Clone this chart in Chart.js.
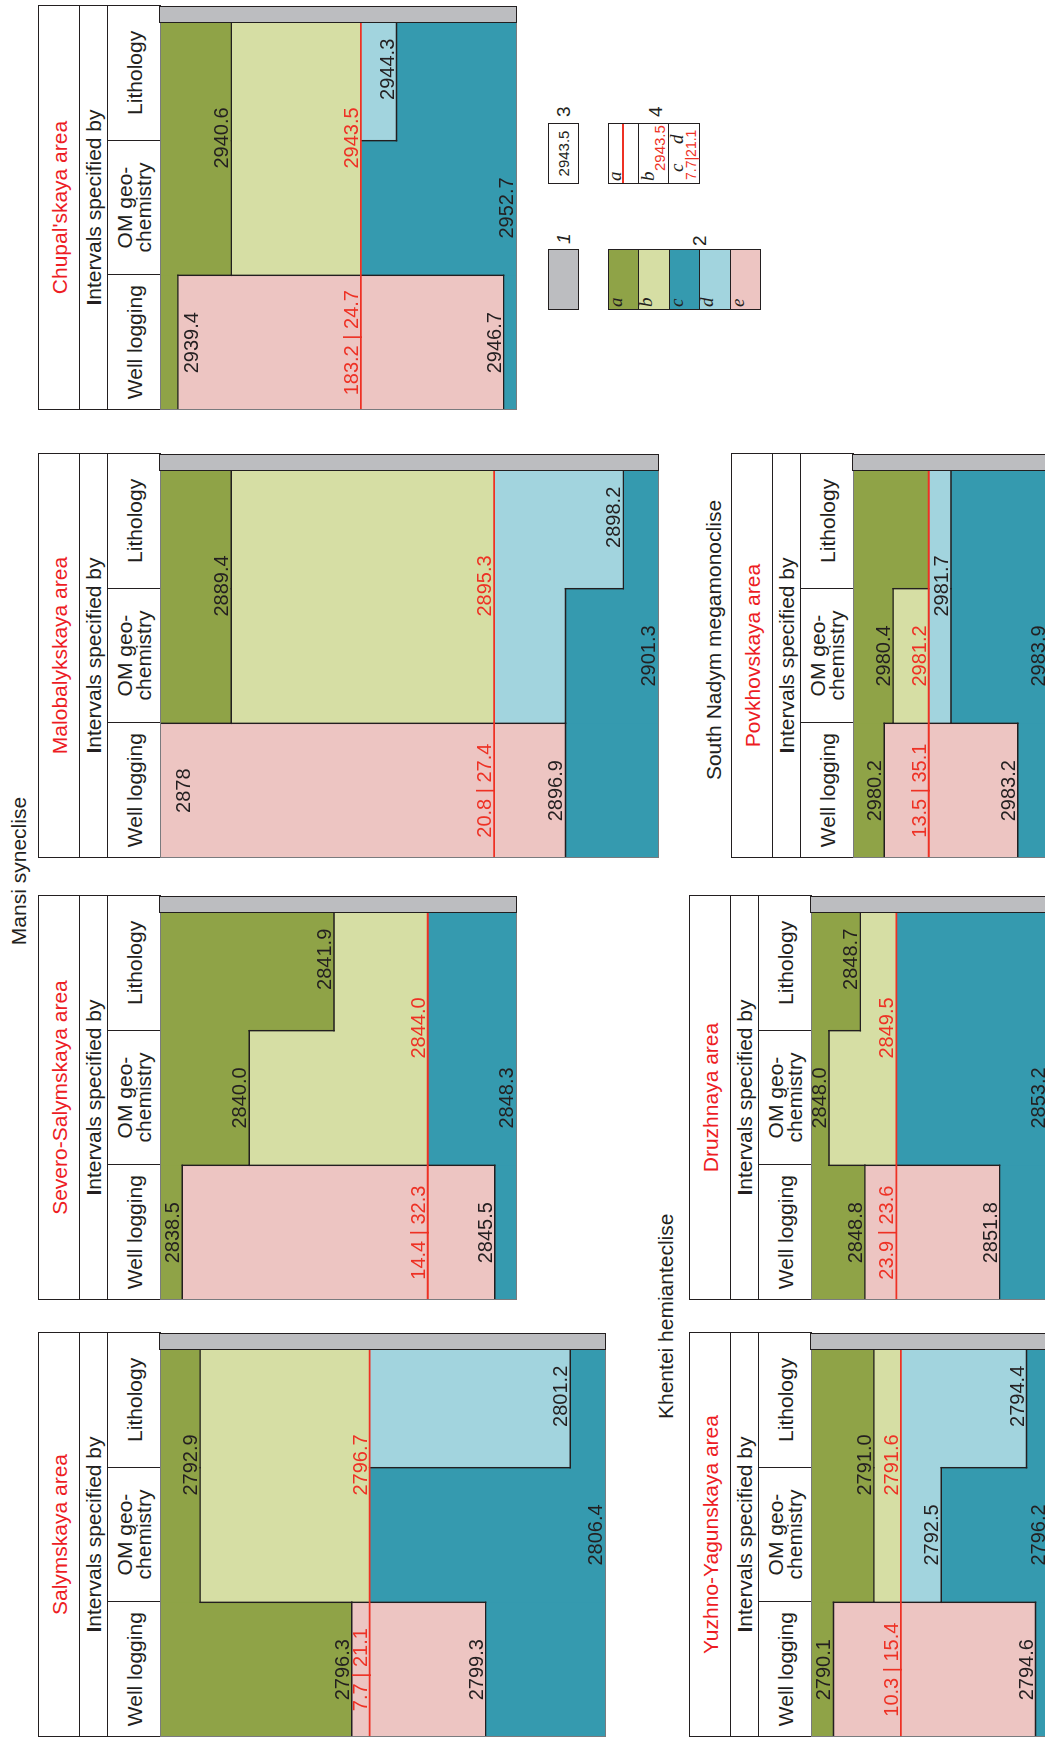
<!DOCTYPE html>
<html>
<head>
<meta charset="utf-8">
<title>Intervals specified by well logging, OM geochemistry and lithology</title>
<script src="https://cdn.jsdelivr.net/npm/chart.js@4.4.1/dist/chart.umd.min.js"></script>
<style>
  html, body { margin:0; padding:0; background:#fff; }
  body { width:1045px; height:1737px; overflow:hidden; position:relative;
         font-family:"Liberation Sans", Arial, Helvetica, sans-serif; color:#231f20; }
  #fig { position:absolute; left:0; top:0; width:1737px; height:1045px;
         transform-origin:0 0; transform:translate(0px,1737px) rotate(-90deg); }
  .panel { position:absolute; }
  .panel table { position:absolute; left:0; top:0; width:404px; height:122px;
                 border-collapse:collapse; table-layout:fixed; }
  .panel td { border:1.4px solid #231f20; padding:0; text-align:center; vertical-align:middle;
              font-size:21px; line-height:19px; color:#231f20; overflow:hidden; white-space:nowrap; }
  .panel td.title { color:#ed1c24; }
  .panel canvas { position:absolute; left:0; top:122px; }
  .strip { position:absolute; box-sizing:border-box; background:#bcbdc0; border:1.4px solid #231f20; }
  .frame { position:absolute; box-sizing:border-box; border:1px solid #7a7b7e; pointer-events:none; }
  .group { position:absolute; font-size:21px; line-height:21px; text-align:center; white-space:nowrap; color:#231f20; }
  .lg { position:absolute; box-sizing:border-box; border:1.4px solid #231f20; }
  .lgnum { position:absolute; font-size:19px; line-height:20px; height:20px; color:#231f20; }
  .it { position:absolute; font-family:"Liberation Serif", "Times New Roman", serif; font-style:italic;
        font-size:19px; line-height:19px; color:#231f20; }
  .rt { position:absolute; font-size:15px; line-height:15px; white-space:nowrap; }
</style>
</head>
<body>
<div id="fig"></div>
<script>
// ---------------- data (depths in metres) ----------------
const ROW_NAMES = ['Well logging', 'OM geochemistry', 'Lithology'];
const FACIES_CODES = ['a', 'b', 'c', 'd', 'e'];

// Chupal'skaya area
const chupalRange = [2939.0, 2947.0];
const chupalWell = [['a', 2939.0, 2939.4], ['e', 2939.4, 2946.7], ['c', 2946.7, 2952.7]];
const chupalOM   = [['a', 2939.0, 2940.6], ['b', 2940.6, 2943.5], ['c', 2943.5, 2952.7]];
const chupalLith = [['a', 2939.0, 2940.6], ['b', 2940.6, 2943.5], ['d', 2943.5, 2944.3], ['c', 2944.3, 2952.7]];
const chupalBoundary = 2943.5;
const chupalRatio = ['183.2', '24.7'];
const chupalDepths = ['2939.4', '2940.6', '2943.5', '2944.3', '2946.7', '2952.7'];
const chupalDepthRows = ['W+', 'LO', 'LO', 'L', 'W', 'O'];

// Malobalykskaya area
const malobRange = [2887.8, 2899.0];
const malobWell = [['e', 2878.0, 2896.9], ['c', 2896.9, 2901.3]];
const malobOM   = [['a', 2887.8, 2889.4], ['b', 2889.4, 2895.3], ['d', 2895.3, 2896.9], ['c', 2896.9, 2901.3]];
const malobLith = [['a', 2887.8, 2889.4], ['b', 2889.4, 2895.3], ['d', 2895.3, 2898.2], ['c', 2898.2, 2901.3]];
const malobBoundary = 2895.3;
const malobRatio = ['20.8', '27.4'];
const malobDepths = ['2878', '2889.4', '2895.3', '2896.9', '2898.2', '2901.3'];
const malobDepthRows = ['W+', 'LO', 'LO', 'W', 'L', 'O'];

// Severo-Salymskaya area
const severoRange = [2838.0, 2846.0];
const severoWell = [['a', 2838.0, 2838.5], ['e', 2838.5, 2845.5], ['c', 2845.5, 2848.3]];
const severoOM   = [['a', 2838.0, 2840.0], ['b', 2840.0, 2844.0], ['c', 2844.0, 2848.3]];
const severoLith = [['a', 2838.0, 2841.9], ['b', 2841.9, 2844.0], ['c', 2844.0, 2848.3]];
const severoBoundary = 2844.0;
const severoRatio = ['14.4', '32.3'];
const severoDepths = ['2838.5', '2840.0', '2841.9', '2844.0', '2845.5', '2848.3'];
const severoDepthRows = ['W', 'O', 'L', 'LO', 'W', 'O'];

// Salymskaya area
const salymRange = [2792.0, 2802.0];
const salymWell = [['a', 2792.0, 2796.3], ['e', 2796.3, 2799.3], ['c', 2799.3, 2806.4]];
const salymOM   = [['a', 2792.0, 2792.9], ['b', 2792.9, 2796.7], ['c', 2796.7, 2806.4]];
const salymLith = [['a', 2792.0, 2792.9], ['b', 2792.9, 2796.7], ['d', 2796.7, 2801.2], ['c', 2801.2, 2806.4]];
const salymBoundary = 2796.7;
const salymRatio = ['7.7', '21.1'];
const salymDepths = ['2792.9', '2796.3', '2796.7', '2799.3', '2801.2', '2806.4'];
const salymDepthRows = ['LO', 'W', 'LO', 'W', 'L', 'O'];

// Povkhovskaya area
const povkhRange = [2979.5, 2983.9];
const povkhWell = [['a', 2979.5, 2980.2], ['e', 2980.2, 2983.2], ['c', 2983.2, 2983.9]];
const povkhOM   = [['a', 2979.5, 2980.4], ['b', 2980.4, 2981.2], ['d', 2981.2, 2981.7], ['c', 2981.7, 2983.9]];
const povkhLith = [['a', 2979.5, 2981.2], ['d', 2981.2, 2981.7], ['c', 2981.7, 2983.9]];
const povkhBoundary = 2981.2;
const povkhRatio = ['13.5', '35.1'];
const povkhDepths = ['2980.2', '2980.4', '2981.2', '2981.7', '2983.2', '2983.9'];
const povkhDepthRows = ['W', 'O', 'O', 'LO', 'W', 'O'];

// Druzhnaya area
const druzhRange = [2847.6, 2852.9];
const druzhWell = [['a', 2847.6, 2848.8], ['e', 2848.8, 2851.8], ['c', 2851.8, 2853.2]];
const druzhOM   = [['a', 2847.6, 2848.0], ['b', 2848.0, 2849.5], ['c', 2849.5, 2853.2]];
const druzhLith = [['a', 2847.6, 2848.7], ['b', 2848.7, 2849.5], ['c', 2849.5, 2853.2]];
const druzhBoundary = 2849.5;
const druzhRatio = ['23.9', '23.6'];
const druzhDepths = ['2848.0', '2848.7', '2848.8', '2849.5', '2851.8', '2853.2'];
const druzhDepthRows = ['O', 'L', 'W', 'LO', 'W', 'O'];

// Yuzhno-Yagunskaya area
const yuzhRange = [2789.6, 2794.9];
const yuzhWell = [['a', 2789.6, 2790.1], ['e', 2790.1, 2794.6], ['c', 2794.6, 2796.2]];
const yuzhOM   = [['a', 2789.6, 2791.0], ['b', 2791.0, 2791.6], ['d', 2791.6, 2792.5], ['c', 2792.5, 2796.2]];
const yuzhLith = [['a', 2789.6, 2791.0], ['b', 2791.0, 2791.6], ['d', 2791.6, 2794.4], ['c', 2794.4, 2796.2]];
const yuzhBoundary = 2791.6;
const yuzhRatio = ['10.3', '15.4'];
const yuzhDepths = ['2790.1', '2791.0', '2791.6', '2792.5', '2794.4', '2794.6', '2796.2'];
const yuzhDepthRows = ['W', 'LO', 'LO', 'O', 'L', 'W', 'O'];

// ---------------- styles & layout ----------------
const FACIES_COLORS = { a: '#8fa347', b: '#d6dea4', c: '#359aaf', d: '#a2d4de', e: '#edc5c2' };
const INK = '#231f20';
const RED = '#ee3124';
const ROW_POS = { W: 0, O: 1, LO: 1.52, L: 2.03 };

const PANELS = [
  { key: 'chupal', title: "Chupal'skaya area", range: chupalRange, rows: [chupalWell, chupalOM, chupalLith],
    boundary: chupalBoundary, ratio: chupalRatio, depths: chupalDepths, depthRows: chupalDepthRows },
  { key: 'malob', title: 'Malobalykskaya area', range: malobRange, rows: [malobWell, malobOM, malobLith],
    boundary: malobBoundary, ratio: malobRatio, depths: malobDepths, depthRows: malobDepthRows },
  { key: 'severo', title: 'Severo-Salymskaya area', range: severoRange, rows: [severoWell, severoOM, severoLith],
    boundary: severoBoundary, ratio: severoRatio, depths: severoDepths, depthRows: severoDepthRows },
  { key: 'salym', title: 'Salymskaya area', range: salymRange, rows: [salymWell, salymOM, salymLith],
    boundary: salymBoundary, ratio: salymRatio, depths: salymDepths, depthRows: salymDepthRows },
  { key: 'povkh', title: 'Povkhovskaya area', range: povkhRange, rows: [povkhWell, povkhOM, povkhLith],
    boundary: povkhBoundary, ratio: povkhRatio, depths: povkhDepths, depthRows: povkhDepthRows },
  { key: 'druzh', title: 'Druzhnaya area', range: druzhRange, rows: [druzhWell, druzhOM, druzhLith],
    boundary: druzhBoundary, ratio: druzhRatio, depths: druzhDepths, depthRows: druzhDepthRows },
  { key: 'yuzh', title: 'Yuzhno-Yagunskaya area', range: yuzhRange, rows: [yuzhWell, yuzhOM, yuzhLith],
    boundary: yuzhBoundary, ratio: yuzhRatio, depths: yuzhDepths, depthRows: yuzhDepthRows },
];

// panel boxes in the unrotated frame (u = horizontal, v = vertical)
const LAYOUT = {
  chupal: { u: 1327, v: 38, end: 517 },
  malob:  { u: 879,  v: 38, end: 659 },
  povkh:  { u: 879,  v: 731, end: 1049 },
  severo: { u: 437,  v: 38, end: 517 },
  druzh:  { u: 437,  v: 689, end: 1049 },
  salym:  { u: 0,    v: 38, end: 606 },
  yuzh:   { u: 0,    v: 689, end: 1049 },
};
const PANEL_W = 404, HEAD_H = 122, STRIP_W = 17;

const fig = document.getElementById('fig');

function colourAt(segs, d) {
  for (const s of segs) if (d >= s[1] && d < s[2]) return s[0];
  return null;
}

function buildDatasets(rows) {
  return FACIES_CODES.map(code => ({
    label: code,
    data: rows.map(segs => { const s = segs.find(q => q[0] === code); return s ? [s[1], s[2]] : null; }),
    backgroundColor: FACIES_COLORS[code],
    borderWidth: 0,
    grouped: false,
    categoryPercentage: 1,
    barPercentage: 1,
  })).filter(ds => ds.data.some(v => v));
}

function makeOverlay(p) {
  return {
    id: 'overlay_' + p.key,
    afterDatasetsDraw(chart) {
      const { ctx, chartArea: ca, scales: { x, y } } = chart;
      const band = (ca.right - ca.left) / 3;
      const yp = d => y.getPixelForValue(d);
      const inside = d => d > y.min && d < y.max;
      const line = (x1, y1, x2, y2) => { ctx.beginPath(); ctx.moveTo(x1, y1); ctx.lineTo(x2, y2); ctx.stroke(); };
      ctx.save();
      ctx.beginPath(); ctx.rect(ca.left, ca.top, ca.right - ca.left, ca.bottom - ca.top); ctx.clip();
      ctx.strokeStyle = INK; ctx.lineWidth = 1.4; ctx.lineCap = 'square';
      // interval boundaries inside each column
      p.rows.forEach((segs, r) => {
        const cx = x.getPixelForValue(r);
        segs.slice(1).forEach(s => {
          if (s[1] === p.boundary || !inside(s[1])) return;
          line(cx - band / 2, yp(s[1]), cx + band / 2, yp(s[1]));
        });
      });
      // edges between neighbouring columns where the facies differ
      for (let r = 0; r < 2; r++) {
        const pts = [...new Set([y.min, y.max,
          ...p.rows[r].flatMap(s => [s[1], s[2]]), ...p.rows[r + 1].flatMap(s => [s[1], s[2]])])]
          .filter(d => d >= y.min && d <= y.max).sort((a, b) => a - b);
        const bx = x.getPixelForValue(r + 0.5);
        for (let i = 0; i < pts.length - 1; i++) {
          const mid = (pts[i] + pts[i + 1]) / 2;
          if (colourAt(p.rows[r], mid) !== colourAt(p.rows[r + 1], mid)) line(bx, yp(pts[i]), bx, yp(pts[i + 1]));
        }
      }
      // boundary (red line)
      ctx.strokeStyle = RED; ctx.lineWidth = 1.8; ctx.lineCap = 'butt';
      line(ca.left, yp(p.boundary), ca.right, yp(p.boundary));
      // depth labels
      ctx.font = '20px "Liberation Sans", Arial, sans-serif';
      ctx.textAlign = 'center'; ctx.textBaseline = 'alphabetic';
      p.depths.forEach((t, i) => {
        const code = p.depthRows[i];
        const after = code.endsWith('+');
        const cx = x.getPixelForValue(ROW_POS[code.replace('+', '')]);
        const d = parseFloat(t);
        let py;
        if (d >= y.max) py = ca.bottom - 4;
        else if (d <= y.min) py = ca.top + 30;
        else py = after ? yp(d) + 20 : yp(d) - 3;
        ctx.fillStyle = d === p.boundary ? RED : INK;
        ctx.fillText(t, cx, py);
      });
      ctx.fillStyle = RED;
      ctx.fillText(p.ratio[0] + ' | ' + p.ratio[1], x.getPixelForValue(ROW_POS.W), yp(p.boundary) - 3);
      ctx.restore();
    }
  };
}

PANELS.forEach(p => {
  const L = LAYOUT[p.key];
  const H = L.end - L.v - HEAD_H;
  const div = document.createElement('div');
  div.className = 'panel';
  Object.assign(div.style, { left: L.u + 'px', top: L.v + 'px', width: PANEL_W + 'px', height: (L.end - L.v) + 'px' });
  div.innerHTML =
    '<table><colgroup><col style="width:134.67px"><col style="width:134.67px"><col style="width:134.66px"></colgroup>' +
    '<tr style="height:41px"><td colspan="3" class="title">' + p.title + '</td></tr>' +
    '<tr style="height:28px"><td colspan="3"><b>I</b>ntervals specified by</td></tr>' +
    '<tr style="height:53px"><td>' + ROW_NAMES[0] + '</td><td>OM geo-<br>chemistry</td><td>' + ROW_NAMES[2] + '</td></tr>' +
    '</table>';
  const canvas = document.createElement('canvas');
  canvas.width = PANEL_W; canvas.height = H;
  canvas.style.width = PANEL_W + 'px'; canvas.style.height = H + 'px';
  div.appendChild(canvas);
  const frame = document.createElement('div');
  frame.className = 'frame';
  Object.assign(frame.style, { left: '0px', top: HEAD_H + 'px', width: PANEL_W + 'px', height: H + 'px' });
  div.appendChild(frame);
  const strip = document.createElement('div');
  strip.className = 'strip';
  Object.assign(strip.style, { left: (PANEL_W - STRIP_W) + 'px', top: (HEAD_H - 1) + 'px', width: STRIP_W + 'px', height: (H + 1) + 'px' });
  div.appendChild(strip);
  fig.appendChild(div);

  new Chart(canvas, {
    type: 'bar',
    data: { labels: ROW_NAMES, datasets: buildDatasets(p.rows) },
    options: {
      responsive: false, animation: false, devicePixelRatio: 1, events: [],
      layout: { padding: 0 },
      plugins: { legend: { display: false }, tooltip: { enabled: false }, title: { display: false } },
      scales: {
        x: { type: 'category', display: false, offset: true, grid: { display: false } },
        y: { type: 'linear', display: false, reverse: true, min: p.range[0], max: p.range[1], grid: { display: false } }
      }
    },
    plugins: [makeOverlay(p)]
  });
});

// ---------------- group labels ----------------
function addEl(cls, html, style) {
  const el = document.createElement('div');
  el.className = cls; el.innerHTML = html;
  Object.assign(el.style, style);
  fig.appendChild(el);
  return el;
}
addEl('group', 'Mansi syneclise', { left: '766px', width: '200px', top: '8px' });
addEl('group', 'South Nadym megamonoclise', { left: '947px', width: '300px', top: '703px' });
addEl('group', 'Khentei hemianteclise', { left: '318px', width: '200px', top: '655px' });

// ---------------- legend ----------------
// 3: depth of interval boundary
addEl('lg', '', { left: '1553px', top: '548px', width: '61px', height: '31px', display: 'flex',
  alignItems: 'center', justifyContent: 'center', fontSize: '15px' }).textContent = '2943.5';
addEl('lgnum', '3', { left: '1620px', top: '554px' });
// 4: boundary line / depth / ratio
addEl('lg', '', { left: '1553px', top: '608px', width: '61px', height: '92px' });
addEl('lg', '', { left: '1553px', top: '638.3px', width: '61px', height: '31px', borderLeft: 'none', borderRight: 'none' });
addEl('', '', { position: 'absolute', left: '1554px', top: '622px', width: '59px', height: '1.8px', background: RED });
addEl('it', 'a', { left: '1556px', top: '605px' });
addEl('it', 'b', { left: '1556px', top: '638px' });
addEl('rt', '2943.5', { left: '1566px', top: '652px', color: RED });
addEl('it', 'c', { left: '1565px', top: '667px' });
addEl('it', 'd', { left: '1593px', top: '667px' });
addEl('rt', '7.7|21.1', { left: '1557px', top: '684px', color: RED, fontSize: '14px' });
addEl('lgnum', '4', { left: '1620px', top: '646px' });
// 1: grey column
addEl('lg', '', { left: '1427px', top: '548px', width: '61px', height: '31px', background: '#bcbdc0' });
addEl('lgnum', '<i>1</i>', { left: '1493px', top: '554px' });
// 2: facies colours a-e
FACIES_CODES.forEach((code, i) => {
  addEl('lg', '', { left: '1427px', top: (608 + i * 30.4) + 'px', width: '61px', height: '31.8px', background: FACIES_COLORS[code] });
  addEl('it', code, { left: '1430px', top: (606 + i * 30.4) + 'px' });
});
addEl('lgnum', '2', { left: '1491px', top: '690px' });
</script>
</body>
</html>
